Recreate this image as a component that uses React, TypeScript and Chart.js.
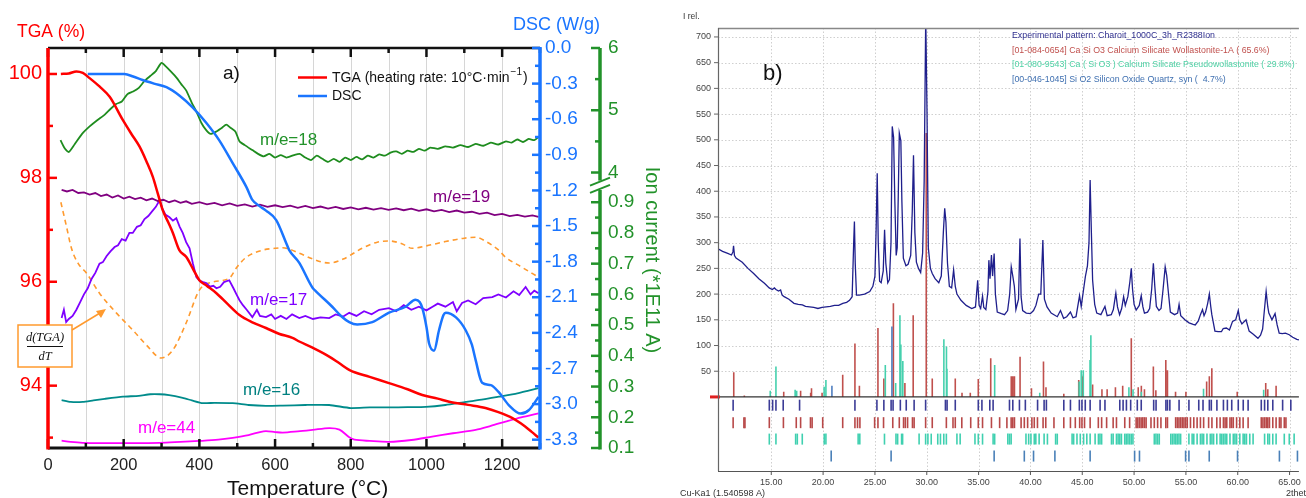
import React, { useEffect, useRef } from "react";
import { Chart, registerables } from "chart.js";
Chart.register(...registerables);

const FONT = "'Liberation Sans', Arial, Helvetica, sans-serif";
const SERIF = "'Liberation Serif', 'Times New Roman', serif";

// ================= Panel a) TGA / DSC / MS =================
const tgaCurve: [number, number][] = [
  [34, 100.0], [55, 100.01], [75, 100.05], [92, 100.02], [110, 99.92], [136, 99.76], [163, 99.56],
  [198, 99.11], [220, 98.85], [242, 98.6], [260, 98.32], [277, 98.02], [290, 97.7], [303, 97.38],
  [318, 97.14], [330, 96.94], [347, 96.61], [365, 96.48], [383, 96.25], [400, 96.03], [420, 95.92],
  [445, 95.78], [475, 95.57], [506, 95.36], [540, 95.22], [576, 95.11], [610, 95.0], [646, 94.92],
  [664, 94.85], [699, 94.73], [743, 94.56], [770, 94.43], [797, 94.3], [850, 94.17], [901, 94.05],
  [950, 93.93], [989, 93.82], [1030, 93.75], [1060, 93.69], [1110, 93.63], [1156, 93.57],
  [1190, 93.49], [1226, 93.38], [1250, 93.27], [1278, 93.11], [1296, 93.0],
];
const dscCurve: [number, number][] = [
  [105, -0.22], [150, -0.22], [202, -0.22], [225, -0.24], [250, -0.27], [280, -0.3], [313, -0.33],
  [347, -0.4], [382, -0.5], [418, -0.63], [453, -0.78], [488, -0.97], [524, -1.17], [540, -1.28],
  [558, -1.33], [576, -1.37], [603, -1.45], [629, -1.64], [637, -1.7], [664, -1.81], [699, -2.02],
  [708, -2.05], [751, -2.18], [775, -2.26], [796, -2.31], [817, -2.33], [857, -2.31], [901, -2.23],
  [945, -2.18], [971, -2.12], [982, -2.14], [989, -2.19], [1000, -2.35], [1007, -2.49], [1020, -2.55],
  [1033, -2.38], [1045, -2.25], [1051, -2.23], [1078, -2.27], [1104, -2.38], [1120, -2.5],
  [1130, -2.63], [1147, -2.82], [1170, -2.84], [1191, -2.9], [1218, -3.01], [1249, -3.08],
  [1271, -3.05], [1296, -2.94],
];
const me18: [number, number][] = [
  [33, 4.52], [45, 4.38], [55, 4.33], [70, 4.45], [90, 4.62], [110, 4.74], [130, 4.84], [150, 4.93],
  [165, 5.02], [180, 5.1], [195, 5.14], [210, 5.26], [225, 5.3], [240, 5.36], [255, 5.47], [270, 5.55],
  [285, 5.63], [300, 5.76], [312, 5.7], [325, 5.62], [340, 5.52], [352, 5.42], [365, 5.32], [380, 5.12],
  [392, 4.98], [405, 4.8], [418, 4.68], [430, 4.62], [445, 4.66], [460, 4.72], [471, 4.77], [482, 4.72],
  [495, 4.66], [506, 4.5], [520, 4.44], [540, 4.36], [555, 4.3], [570, 4.26], [585, 4.3], [600, 4.24],
  [615, 4.28], [630, 4.24], [650, 4.28], [665, 4.3], [680, 4.24], [695, 4.2], [710, 4.27], [725, 4.22],
  [740, 4.17], [755, 4.22], [770, 4.17], [785, 4.24], [800, 4.2], [815, 4.25], [830, 4.21], [845, 4.27],
  [860, 4.24], [875, 4.29], [890, 4.27], [905, 4.32], [920, 4.34], [935, 4.3], [950, 4.35], [965, 4.33],
  [980, 4.38], [995, 4.35], [1010, 4.4], [1030, 4.38], [1050, 4.42], [1070, 4.4], [1090, 4.44],
  [1110, 4.41], [1130, 4.46], [1150, 4.43], [1170, 4.48], [1190, 4.45], [1210, 4.5], [1225, 4.48],
  [1240, 4.53], [1255, 4.49], [1270, 4.54], [1285, 4.52], [1296, 4.57],
];
const me19: [number, number][] = [
  [36, 0.94], [50, 0.935], [65, 0.94], [80, 0.93], [95, 0.932], [110, 0.925], [125, 0.93], [140, 0.92],
  [155, 0.925], [170, 0.915], [185, 0.922], [200, 0.912], [215, 0.918], [230, 0.91], [245, 0.915],
  [260, 0.906], [275, 0.912], [290, 0.904], [305, 0.908], [320, 0.9], [335, 0.906], [350, 0.898],
  [365, 0.903], [380, 0.895], [400, 0.9], [420, 0.893], [440, 0.898], [460, 0.89], [480, 0.896],
  [500, 0.888], [520, 0.893], [540, 0.886], [560, 0.892], [580, 0.885], [600, 0.89], [620, 0.884],
  [640, 0.889], [660, 0.882], [680, 0.888], [700, 0.881], [720, 0.886], [740, 0.879], [760, 0.885],
  [780, 0.878], [800, 0.883], [820, 0.877], [840, 0.882], [860, 0.876], [880, 0.881], [900, 0.875],
  [920, 0.88], [940, 0.874], [960, 0.879], [980, 0.872], [1000, 0.877], [1020, 0.87], [1040, 0.875],
  [1060, 0.868], [1080, 0.873], [1100, 0.866], [1120, 0.869], [1140, 0.862], [1160, 0.866],
  [1180, 0.858], [1200, 0.862], [1220, 0.855], [1240, 0.859], [1260, 0.853], [1280, 0.857], [1296, 0.852],
];
const me17: [number, number][] = [
  [36, 0.523], [42, 0.55], [48, 0.51], [55, 0.52], [65, 0.53], [75, 0.55], [85, 0.575], [95, 0.6],
  [105, 0.62], [115, 0.65], [125, 0.67], [136, 0.7], [145, 0.705], [155, 0.725], [165, 0.74],
  [176, 0.754], [185, 0.76], [195, 0.78], [205, 0.775], [215, 0.8], [224, 0.8], [235, 0.82],
  [245, 0.825], [255, 0.845], [265, 0.855], [275, 0.87], [285, 0.885], [295, 0.907], [302, 0.88],
  [310, 0.86], [321, 0.851], [330, 0.84], [339, 0.848], [348, 0.82], [356, 0.8], [365, 0.77],
  [374, 0.75], [383, 0.7], [392, 0.656], [400, 0.645], [410, 0.64], [418, 0.637], [428, 0.625],
  [437, 0.628], [445, 0.62], [455, 0.625], [465, 0.64], [479, 0.646], [490, 0.62], [498, 0.6],
  [506, 0.581], [515, 0.565], [525, 0.55], [540, 0.526], [552, 0.55], [560, 0.53], [576, 0.526],
  [590, 0.535], [600, 0.52], [615, 0.53], [630, 0.52], [645, 0.535], [664, 0.523], [680, 0.53],
  [700, 0.52], [720, 0.525], [743, 0.523], [760, 0.535], [780, 0.528], [796, 0.54], [815, 0.53],
  [835, 0.545], [855, 0.535], [875, 0.55], [901, 0.555], [920, 0.545], [940, 0.565], [960, 0.55],
  [980, 0.56], [1000, 0.548], [1015, 0.559], [1030, 0.57], [1050, 0.56], [1070, 0.575], [1080, 0.545],
  [1094, 0.572], [1110, 0.58], [1130, 0.568], [1150, 0.588], [1174, 0.591], [1190, 0.6], [1210, 0.59],
  [1230, 0.61], [1245, 0.598], [1262, 0.624], [1275, 0.6], [1285, 0.612], [1296, 0.604],
];
const me16: [number, number][] = [
  [36, 0.256], [60, 0.25], [92, 0.25], [120, 0.255], [150, 0.26], [198, 0.267], [240, 0.27], [270, 0.275],
  [295, 0.275], [320, 0.272], [356, 0.263], [380, 0.255], [409, 0.246], [440, 0.247], [488, 0.246],
  [530, 0.24], [576, 0.237], [620, 0.238], [680, 0.24], [743, 0.24], [800, 0.23], [850, 0.232],
  [900, 0.232], [950, 0.233], [998, 0.234], [1050, 0.24], [1104, 0.25], [1150, 0.258], [1191, 0.267],
  [1240, 0.278], [1270, 0.287], [1296, 0.295],
];
const me44: [number, number][] = [
  [36, 0.124], [60, 0.12], [92, 0.117], [150, 0.116], [200, 0.116], [295, 0.117], [350, 0.12], [400, 0.123],
  [450, 0.127], [488, 0.133], [530, 0.142], [560, 0.152], [576, 0.155], [600, 0.152], [620, 0.15],
  [660, 0.154], [699, 0.159], [743, 0.165], [770, 0.16], [796, 0.135], [810, 0.127], [850, 0.123],
  [901, 0.12], [960, 0.126], [1015, 0.137], [1070, 0.148], [1130, 0.159], [1170, 0.172], [1209, 0.186],
  [1250, 0.2], [1296, 0.213],
];
const dTgaCurve: [number, number][] = [
  [34, 0.9], [49, 0.82], [62, 0.75], [80, 0.7], [102, 0.669], [136, 0.604], [181, 0.539], [224, 0.484],
  [260, 0.435], [299, 0.393], [330, 0.419], [365, 0.507], [400, 0.614], [435, 0.64], [479, 0.653],
  [500, 0.69], [524, 0.721], [567, 0.744], [600, 0.75], [620, 0.752], [664, 0.734], [700, 0.715],
  [743, 0.702], [780, 0.715], [830, 0.75], [870, 0.77], [901, 0.774], [935, 0.765], [962, 0.75],
  [1000, 0.758], [1050, 0.772], [1100, 0.783], [1130, 0.786], [1160, 0.77], [1191, 0.744],
  [1209, 0.721], [1250, 0.69], [1296, 0.656],
];
const ionHighTicks = [4, 5, 6];
const ionLowTicks = [0.1, 0.2, 0.3, 0.4, 0.5, 0.6, 0.7, 0.8, 0.9];

// ================= Panel b) XRD =================
const xrdPattern: [number, number][] = [
  [9.86, 288], [10.3, 283], [10.8, 279], [11.16, 276], [11.3, 282], [11.36, 294], [11.45, 275], [11.6, 270],
  [12.2, 262], [12.75, 250], [13.3, 240], [13.8, 230], [14.34, 221], [14.8, 212], [15.1, 209], [15.3, 212],
  [15.45, 209], [15.7, 206], [15.9, 208], [16.05, 198], [16.24, 195], [16.7, 190], [17.19, 182],
  [17.6, 180], [18.0, 179], [18.3, 176], [18.7, 175], [19.1, 174], [19.5, 172], [19.9, 174], [20.3, 175],
  [20.7, 176], [21.1, 178], [21.5, 178], [21.9, 182], [22.27, 184], [22.55, 188], [22.8, 195], [22.95, 300],
  [23.02, 341], [23.1, 260], [23.22, 198], [23.5, 198], [24.0, 200], [24.5, 205], [24.8, 215], [25.0, 235],
  [25.12, 330], [25.22, 435], [25.32, 300], [25.45, 225], [25.6, 222], [25.8, 245], [25.93, 325],
  [26.05, 260], [26.24, 222], [26.4, 228], [26.55, 300], [26.67, 526], [26.8, 505], [26.92, 380],
  [27.05, 275], [27.15, 290], [27.25, 390], [27.35, 513], [27.5, 498], [27.6, 380], [27.74, 270],
  [27.99, 255], [28.2, 258], [28.45, 275], [28.6, 360], [28.72, 470], [28.85, 320], [29.0, 262],
  [29.2, 250], [29.41, 242], [29.6, 280], [29.75, 420], [29.9, 740], [30.02, 560], [30.15, 290],
  [30.35, 250], [30.53, 240], [30.8, 230], [31.16, 222], [31.4, 235], [31.6, 320], [31.73, 367],
  [31.85, 340], [32.0, 260], [32.18, 215], [32.4, 212], [32.59, 247], [32.75, 215], [32.91, 200],
  [33.3, 188], [33.8, 178], [34.34, 172], [34.7, 175], [34.91, 227], [35.05, 178], [35.2, 172],
  [35.38, 196], [35.5, 174], [35.7, 170], [35.9, 205], [35.99, 266], [36.1, 230], [36.24, 276],
  [36.35, 235], [36.5, 279], [36.62, 200], [36.8, 165], [37.2, 162], [37.5, 160], [37.8, 168], [38.0, 200],
  [38.15, 253], [38.3, 235], [38.45, 215], [38.6, 170], [38.85, 190], [38.99, 308], [39.1, 195],
  [39.25, 168], [39.6, 163], [40.0, 162], [40.3, 168], [40.53, 178], [40.8, 200], [41.0, 200], [41.2, 305],
  [41.35, 190], [41.6, 175], [42.0, 163], [42.59, 156], [42.9, 168], [43.2, 153], [43.5, 156], [43.86, 165],
  [44.1, 154], [44.4, 156], [44.74, 197], [44.9, 176], [45.1, 205], [45.3, 234], [45.5, 255], [45.65, 300],
  [45.76, 422], [45.88, 320], [46.0, 227], [46.2, 180], [46.4, 163], [46.8, 160], [47.19, 176], [47.4, 158],
  [47.8, 160], [48.0, 170], [48.24, 202], [48.4, 175], [48.6, 160], [48.8, 172], [48.99, 195], [49.15, 178],
  [49.4, 195], [49.6, 225], [49.73, 250], [49.85, 210], [50.0, 180], [50.2, 169], [50.5, 178], [50.69, 197],
  [50.85, 175], [51.0, 163], [51.3, 165], [51.5, 172], [51.7, 210], [51.86, 260], [52.0, 215], [52.15, 176],
  [52.4, 168], [52.6, 172], [52.8, 210], [53.0, 253], [53.15, 236], [53.3, 205], [53.5, 165], [53.9, 160],
  [54.2, 163], [54.34, 180], [54.5, 158], [54.9, 150], [55.3, 144], [55.7, 141], [55.9, 140], [56.2, 148],
  [56.4, 160], [56.6, 170], [56.75, 158], [56.9, 165], [57.1, 182], [57.26, 200], [57.4, 175], [57.5, 160],
  [57.8, 128], [58.1, 127], [58.43, 127], [58.6, 133], [58.9, 134], [59.2, 130], [59.5, 147], [59.8, 150],
  [60.05, 168], [60.2, 150], [60.4, 142], [60.8, 150], [61.1, 128], [61.5, 122], [61.95, 114], [62.2, 120],
  [62.4, 132], [62.6, 175], [62.74, 205], [62.9, 175], [63.0, 163], [63.3, 150], [63.6, 162], [63.8, 140],
  [64.0, 124], [64.3, 123], [64.6, 124], [64.97, 121], [65.3, 116], [65.7, 112], [65.9, 111],
];
const wollastoniteSticks: [number, number][] = [
  [11.38, 48], [12.4, 3], [16.2, 10], [17.83, 12], [18.8, 8], [18.88, 17], [19.9, 8], [21.89, 43],
  [23.07, 104], [23.5, 22], [25.29, 134], [25.86, 36], [26.78, 182], [27.89, 27], [28.69, 159],
  [29.95, 513], [30.53, 36], [32.75, 36], [33.4, 8], [34.2, 8], [34.97, 35], [36.17, 75], [38.15, 40],
  [38.3, 40], [38.46, 40], [39.0, 78], [40.1, 17], [41.26, 69], [41.5, 19], [43.22, 6], [44.66, 33],
  [45.05, 40], [46.0, 24], [46.9, 15], [47.4, 15], [48.2, 19], [48.9, 22], [49.73, 114], [50.4, 19],
  [50.7, 22], [51.0, 15], [51.86, 59], [52.1, 13], [53.06, 72], [53.22, 52], [54.0, 10], [55.0, 10],
  [57.0, 30], [57.26, 40], [57.5, 56], [59.95, 10], [62.7, 27], [62.9, 15], [63.7, 22],
];
const pseudoSticks: [number, number][] = [
  [14.9, 12], [15.45, 59], [17.3, 14], [17.45, 12], [20.1, 20], [20.27, 33], [26.0, 62], [27.0, 27],
  [27.41, 159], [27.5, 102], [27.69, 70], [31.65, 112], [31.9, 98], [31.95, 55], [36.55, 62], [40.9, 8],
  [44.7, 30], [44.9, 52], [45.1, 52], [45.75, 72], [45.83, 120], [49.5, 19], [49.9, 15], [50.7, 10],
  [56.7, 16], [62.5, 14],
];
const quartzSticks: [number, number][] = [[20.85, 22], [26.64, 137]];

const peaksExperimental = [
  11.32, 14.81, 15.13, 15.45, 16.15, 17.73, 23.07, 25.19, 25.86, 26.56, 26.75, 27.45, 28.02, 28.78, 29.89,
  31.8, 31.96, 32.75, 34.97, 35.32, 36.08, 36.4, 37.98, 38.3, 38.94, 39.51, 40.69, 41.32, 41.54, 43.22,
  43.86, 44.72, 44.97, 45.29, 45.76, 46.72, 47.19, 48.62, 48.94, 49.26, 49.67, 50.31, 50.69, 51.89, 52.12,
  53.07, 53.22, 53.45, 54.34, 55.29, 56.24, 56.65, 57.26, 57.45, 57.99, 58.62, 59.0, 59.42, 60.05, 60.53,
  61.0, 62.27, 62.59, 62.9, 63.38, 64.33, 65.12,
];
const peaksWollastonite = [
  11.32, 12.36, 12.46, 14.81, 16.17, 17.41, 17.83, 18.78, 18.94, 19.96, 21.89, 23.07, 23.32, 23.55, 24.97,
  25.29, 25.83, 26.72, 27.35, 27.76, 27.93, 28.15, 28.62, 28.78, 29.89, 30.53, 31.89, 32.53, 32.75, 33.38,
  34.24, 34.97, 35.38, 36.24, 37.03, 37.73, 38.14, 38.3, 38.46, 39.1, 39.41, 39.73, 40.14, 40.37, 40.68,
  41.22, 41.48, 42.27, 43.22, 43.86, 44.33, 44.75, 44.97, 45.22, 45.76, 46.55, 46.87, 47.35, 47.98, 48.3,
  49.1, 49.57, 50.2, 50.36, 50.52, 50.68, 50.84, 51.0, 51.16, 51.63, 51.95, 52.27, 52.59, 53.06, 53.22,
  54.01, 54.17, 54.33, 54.49, 54.65, 54.81, 54.97, 55.13, 55.44, 55.76, 56.08, 56.4, 56.71, 57.19, 57.51,
  57.98, 58.3, 58.62, 58.78, 58.94, 59.25, 59.41, 59.57, 59.89, 60.2, 60.52, 61.0, 62.27, 62.43, 62.59,
  62.75, 62.9, 63.06, 63.38, 63.7, 64.02, 64.17, 64.49, 64.65,
];
const peaksPseudo = [
  14.81, 15.45, 17.35, 17.51, 17.99, 20.11, 20.27, 23.38, 23.54, 25.92, 27.03, 27.19, 27.57, 27.67, 29.26,
  29.89, 30.11, 30.43, 31.06, 31.32, 31.64, 31.89, 32.91, 33.22, 34.65, 34.97, 35.38, 36.4, 36.55, 37.82,
  37.98, 38.14, 39.57, 39.83, 40.05, 40.37, 40.52, 40.84, 41.32, 41.64, 42.43, 42.59, 44.02, 44.17, 44.49,
  44.81, 45.13, 45.44, 45.76, 46.24, 46.56, 46.71, 46.87, 47.82, 47.98, 48.3, 48.46, 48.62, 48.78, 49.1,
  49.25, 49.41, 49.57, 49.73, 49.89, 51.95, 52.11, 52.27, 52.43, 53.54, 53.7, 53.86, 54.02, 54.17, 54.33,
  54.49, 55.29, 55.6, 55.76, 56.08, 56.4, 56.56, 56.71, 57.03, 57.35, 57.51, 57.67, 57.98, 58.3, 58.46,
  58.62, 58.78, 58.94, 59.25, 59.57, 59.73, 59.89, 60.2, 60.52, 60.68, 60.84, 61.16, 61.48, 62.59, 62.9,
  63.06, 63.38, 63.7, 64.49, 64.97, 65.44,
];
const peaksQuartz = [20.78, 26.56, 36.5, 39.41, 40.3, 42.36, 45.76, 50.05, 50.52, 54.97, 55.29, 57.25, 59.98, 64.02, 65.76];

const xrdLegendTexts = [
  "Experimental pattern: Charoit_1000C_3h_R2388Ion",
  "[01-084-0654] Ca Si O3 Calcium Silicate Wollastonite-1A ( 65.6%)",
  "[01-080-9543] Ca ( Si O3 ) Calcium Silicate Pseudowollastonite ( 29.8%)",
  "[00-046-1045] Si O2 Silicon Oxide Quartz, syn (  4.7%)",
];
const xrdLegendColors = ["#2e2e8e", "#c0504d", "#4fd1a5", "#3e6fb0"];
const rowLevels = [-16, -50, -82, -115];

// ================= helpers =================
const pts = (a: [number, number][]) => a.map(([x, y]) => ({ x, y }));
const sticks = (a: [number, number][]) =>
  a.flatMap(([x, h]) => [{ x, y: 0 }, { x, y: h }, { x, y: null as any }]);
const row = (a: number[], level: number) => a.map((x) => ({ x, y: level }));

function line(ctx: CanvasRenderingContext2D, x1: number, y1: number, x2: number, y2: number, color: string, w: number) {
  ctx.beginPath();
  ctx.strokeStyle = color;
  ctx.lineWidth = w;
  ctx.moveTo(x1, y1);
  ctx.lineTo(x2, y2);
  ctx.stroke();
}
function text(ctx: CanvasRenderingContext2D, s: string, x: number, y: number, color: string, size: number,
  align: CanvasTextAlign = "left", family = FONT, style = "") {
  ctx.font = `${style} ${size}px ${family}`.trim();
  ctx.fillStyle = color;
  ctx.textAlign = align;
  ctx.textBaseline = "middle";
  ctx.fillText(s, x, y);
}

const RED = "#ff0000";
const BLUE = "#1a75ff";
const GREEN = "#22922a";

const tgaDecor = {
  id: "tgaDecor",
  beforeDatasetsDraw(chart: any) {
    const { ctx, chartArea: ca, scales } = chart;
    ctx.save();
    for (let t = 100; t < 1300; t += 100) {
      const px = Math.round(scales.x.getPixelForValue(t)) + 0.5;
      line(ctx, px, ca.top, px, ca.bottom, "#d6d6d6", 1);
    }
    ctx.restore();
  },
  afterDraw(chart: any) {
    const { ctx, chartArea: ca, scales } = chart;
    const sx = scales.x, sT = scales.yTga, sD = scales.yDsc, sL = scales.yIonLow, sH = scales.yIonHigh;
    ctx.save();
    ctx.lineCap = "butt";
    line(ctx, ca.left, ca.top, ca.right, ca.top, "#111", 2.5);
    line(ctx, ca.left, ca.bottom, ca.right, ca.bottom, "#111", 3);
    for (let t = 0; t <= 1300; t += 100) {
      const px = sx.getPixelForValue(t);
      const len = t % 200 === 0 ? 9 : 5;
      line(ctx, px, ca.bottom, px, ca.bottom - len, "#111", 2.5);
      line(ctx, px, ca.top, px, ca.top + len, "#111", 2.5);
    }
    line(ctx, ca.left, ca.top, ca.left, ca.bottom + 1.5, RED, 3.5);
    for (let v = 93; v <= 100; v++) {
      const py = sT.getPixelForValue(v);
      line(ctx, ca.left, py, ca.left + (v % 2 === 0 ? 9 : 5), py, RED, 2.5);
    }
    line(ctx, ca.right, ca.top - 1, ca.right, ca.bottom + 1.5, BLUE, 3.5);
    for (let k = 0; k <= 22; k++) {
      const py = sD.getPixelForValue(-0.15 * k);
      line(ctx, ca.right, py, ca.right - (k % 2 === 0 ? 8 : 5), py, BLUE, 2.5);
    }
    const gx = 600;
    const yTopEnd = sH.getPixelForValue(3.87);
    const yLowStart = sL.getPixelForValue(0.94);
    line(ctx, gx, sH.getPixelForValue(6), gx, yTopEnd, GREEN, 3.5);
    line(ctx, gx, yLowStart, gx, sL.getPixelForValue(0.1) + 1.5, GREEN, 3.5);
    line(ctx, gx - 10, yTopEnd + 5, gx + 10, yTopEnd - 3, GREEN, 2);
    line(ctx, gx - 10, yLowStart + 3, gx + 10, yLowStart - 5, GREEN, 2);
    for (let v = 4; v <= 6.001; v += 0.5) {
      const py = sH.getPixelForValue(v);
      line(ctx, gx, py, gx - (Math.abs(v - Math.round(v)) < 1e-6 ? 9 : 5), py, GREEN, 2.5);
    }
    for (let k = 2; k <= 18; k++) {
      const py = sL.getPixelForValue(k * 0.05);
      line(ctx, gx, py, gx - (k % 2 === 0 ? 9 : 5), py, GREEN, 2.5);
    }
    ionHighTicks.forEach((v) => text(ctx, String(v), gx + 8, sH.getPixelForValue(v), GREEN, 19));
    ionLowTicks.forEach((v) => text(ctx, v.toFixed(1), gx + 8, sL.getPixelForValue(v), GREEN, 19));
    ctx.save();
    ctx.translate(652, 260);
    ctx.rotate(Math.PI / 2);
    text(ctx, "Ion current (*1E11 A)", 0, 0, GREEN, 20, "center");
    ctx.restore();
    text(ctx, "TGA (%)", 17, 32, RED, 17.5);
    text(ctx, "DSC (W/g)", 513, 25, BLUE, 18);
    text(ctx, "Temperature (°C)", 227, 489, "#111", 21);
    text(ctx, "a)", 223, 74, "#111", 19);
    line(ctx, 298, 77.5, 327, 77.5, RED, 2.5);
    line(ctx, 298, 96, 327, 96, BLUE, 2.5);
    text(ctx, "TGA (heating rate: 10°C·min", 332, 78, "#111", 14);
    const w1 = ctx.measureText("TGA (heating rate: 10°C·min").width;
    text(ctx, "\u22121", 332 + w1 + 1, 72, "#111", 10);
    const w2 = ctx.measureText("\u22121").width;
    text(ctx, ")", 332 + w1 + w2 + 2, 78, "#111", 14);
    text(ctx, "DSC", 332, 96, "#111", 14);
    text(ctx, "m/e=18", 260, 140, GREEN, 17);
    text(ctx, "m/e=19", 433, 197, "#800080", 17);
    text(ctx, "m/e=17", 250, 300, "#7f00ff", 17);
    text(ctx, "m/e=16", 243, 390, "#008080", 17);
    text(ctx, "m/e=44", 138, 428, "#ff00ff", 17);
    ctx.fillStyle = "#fff";
    ctx.fillRect(18, 325, 54, 42);
    ctx.strokeStyle = "#ff9a2e";
    ctx.lineWidth = 1.5;
    ctx.strokeRect(18, 325, 54, 42);
    text(ctx, "d(TGA)", 45, 338, "#111", 12.5, "center", SERIF, "italic");
    line(ctx, 27, 346.5, 63, 346.5, "#111", 1);
    text(ctx, "dT", 45, 357, "#111", 12.5, "center", SERIF, "italic");
    line(ctx, 72, 330, 100, 313, "#ff9a2e", 1.5);
    ctx.beginPath();
    ctx.fillStyle = "#ff9a2e";
    ctx.moveTo(106, 309);
    ctx.lineTo(96, 311);
    ctx.lineTo(101, 318);
    ctx.closePath();
    ctx.fill();
    ctx.restore();
  },
};

const xrdDecor = {
  id: "xrdDecor",
  beforeDatasetsDraw(chart: any) {
    const { ctx, chartArea: ca, scales } = chart;
    ctx.save();
    ctx.setLineDash([1.5, 2]);
    for (let t = 15; t <= 65; t += 5) {
      const px = Math.round(scales.x.getPixelForValue(t)) + 0.5;
      line(ctx, px, ca.top, px, ca.bottom, "#cfcfcf", 1);
    }
    for (let v = 50; v <= 700; v += 50) {
      const py = Math.round(scales.y.getPixelForValue(v)) + 0.5;
      line(ctx, ca.left, py, ca.right, py, "#cfcfcf", 1);
    }
    ctx.restore();
  },
  afterDraw(chart: any) {
    const { ctx, chartArea: ca, scales } = chart;
    ctx.save();
    const y0 = scales.y.getPixelForValue(0);
    line(ctx, ca.left, y0, ca.right, y0, "#333", 1.2);
    line(ctx, ca.left - 8, y0, ca.left + 2, y0, "#e02020", 3);
    line(ctx, ca.left, ca.top + 0.5, ca.right, ca.top + 0.5, "#888", 1.5);
    line(ctx, ca.left + 0.5, ca.top, ca.left + 0.5, ca.bottom, "#666", 1.2);
    line(ctx, ca.left, ca.bottom + 0.5, ca.right, ca.bottom + 0.5, "#555", 1.2);
    for (let v = 50; v <= 700; v += 50) {
      const py = scales.y.getPixelForValue(v);
      line(ctx, ca.left - 4, py, ca.left, py, "#666", 1);
    }
    for (let t = 15; t <= 65; t += 5) {
      const px = scales.x.getPixelForValue(t);
      line(ctx, px, ca.bottom, px, ca.bottom + 4, "#555", 1);
    }
    xrdLegendTexts.forEach((s, i) => text(ctx, s, 336, 36 + i * 14.5, xrdLegendColors[i], 8.8));
    text(ctx, "b)", 87, 74, "#111", 22);
    text(ctx, "I rel.", 7, 17, "#333", 8.5);
    text(ctx, "Cu-Ka1 (1.540598 A)", 4, 494, "#333", 9);
    text(ctx, "2theta", 610, 494, "#333", 9);
    ctx.restore();
  },
};

function fixScale(w?: number, h?: number) {
  return (s: any) => {
    if (w !== undefined) s.width = w;
    if (h !== undefined) s.height = h;
    s.paddingLeft = 0; s.paddingRight = 0; s.paddingTop = 0; s.paddingBottom = 0;
  };
}

function TgaPanel() {
  const ref = useRef<HTMLCanvasElement>(null);
  useEffect(() => {
    const base = { pointRadius: 0, fill: false };
    const chart = new Chart(ref.current!, {
      type: "line",
      data: {
        datasets: [
          { ...base, data: pts(tgaCurve), yAxisID: "yTga", borderColor: RED, borderWidth: 2.5, cubicInterpolationMode: "monotone" },
          { ...base, data: pts(dscCurve), yAxisID: "yDsc", borderColor: BLUE, borderWidth: 2.5, cubicInterpolationMode: "monotone" },
          { ...base, data: pts(me18), yAxisID: "yIonHigh", borderColor: "#1e8c1e", borderWidth: 1.8, tension: 0.2 },
          { ...base, data: pts(me19), yAxisID: "yIonLow", borderColor: "#800080", borderWidth: 1.8, tension: 0 },
          { ...base, data: pts(me17), yAxisID: "yIonLow", borderColor: "#7f00ff", borderWidth: 1.8, tension: 0 },
          { ...base, data: pts(me16), yAxisID: "yIonLow", borderColor: "#008b8b", borderWidth: 1.8, tension: 0.2 },
          { ...base, data: pts(me44), yAxisID: "yIonLow", borderColor: "#ff00ff", borderWidth: 1.8, tension: 0.3 },
          { ...base, data: pts(dTgaCurve), yAxisID: "yIonLow", borderColor: "#ff9a2e", borderWidth: 1.6, borderDash: [5, 4], cubicInterpolationMode: "monotone" },
        ] as any,
      },
      options: {
        responsive: false,
        devicePixelRatio: 1,
        animation: false,
        events: [],
        layout: { padding: { top: 48, left: 0, right: 0, bottom: 0 } },
        plugins: { legend: { display: false }, tooltip: { enabled: false } },
        scales: {
          x: {
            type: "linear", min: 0, max: 1300,
            grid: { display: false, drawTicks: false }, border: { display: false },
            ticks: {
              stepSize: 100, autoSkip: false, maxRotation: 0, padding: 8, color: "#222", includeBounds: false,
              font: { family: FONT, size: 16.5 },
              callback: (v: any) => (v % 200 === 0 ? String(v) : ""),
            },
            afterFit: fixScale(undefined, 50),
          },
          yTga: {
            type: "linear", position: "left", min: 92.8, max: 100.5,
            grid: { display: false, drawTicks: false }, border: { display: false },
            ticks: {
              stepSize: 1, autoSkip: false, padding: 6, color: RED, includeBounds: false, font: { family: FONT, size: 20 },
              callback: (v: any) => (Number.isInteger(v) && v % 2 === 0 ? String(v) : ""),
            },
            afterFit: fixScale(48),
          },
          yDsc: {
            type: "linear", position: "right", min: -3.37, max: 0,
            grid: { display: false, drawTicks: false }, border: { display: false },
            ticks: {
              stepSize: 0.3, autoSkip: false, padding: 5, color: BLUE, includeBounds: false, font: { family: FONT, size: 19 },
              callback: (v: any) => {
                const k = v / 0.3;
                return Math.abs(k - Math.round(k)) < 1e-6 ? Number(v).toFixed(1) : "";
              },
            },
            afterFit: fixScale(135),
          },
          yIonLow: { type: "linear", display: false, min: 0.1, max: 1.402 },
          yIonHigh: { type: "linear", display: false, min: -0.425, max: 6 },
        } as any,
      },
      plugins: [tgaDecor],
    });
    return () => chart.destroy();
  }, []);
  return <canvas ref={ref} width={675} height={498} style={{ position: "absolute", left: 0, top: 0, width: 675, height: 498 }} />;
}

function XrdPanel() {
  const ref = useRef<HTMLCanvasElement>(null);
  useEffect(() => {
    const stickBase = { pointRadius: 0, borderWidth: 1.6, spanGaps: false, tension: 0 };
    const rowBase = { showLine: false, pointStyle: "line", pointRotation: 90, pointRadius: 5.5, pointHoverRadius: 5.5, pointBorderWidth: 1.6 };
    const chart = new Chart(ref.current!, {
      type: "line",
      data: {
        datasets: [
          { data: pts(xrdPattern), borderColor: "#1f1f8c", borderWidth: 1.3, pointRadius: 0, tension: 0 },
          { ...stickBase, data: sticks(quartzSticks), borderColor: "#4f7fc0" },
          { ...stickBase, data: sticks(pseudoSticks), borderColor: "#45d0ad" },
          { ...stickBase, data: sticks(wollastoniteSticks), borderColor: "#c0504d" },
          { ...rowBase, data: row(peaksExperimental, rowLevels[0]), pointBorderColor: "#3b3b96", borderColor: "#3b3b96" },
          { ...rowBase, data: row(peaksWollastonite, rowLevels[1]), pointBorderColor: "#b84848", borderColor: "#b84848" },
          { ...rowBase, data: row(peaksPseudo, rowLevels[2]), pointBorderColor: "#3fd0b0", borderColor: "#3fd0b0" },
          { ...rowBase, data: row(peaksQuartz, rowLevels[3]), pointBorderColor: "#4a80b8", borderColor: "#4a80b8" },
        ] as any,
      },
      options: {
        responsive: false,
        devicePixelRatio: 1,
        animation: false,
        events: [],
        layout: { padding: { top: 28, left: 0, right: 0, bottom: 0 } },
        plugins: { legend: { display: false }, tooltip: { enabled: false } },
        scales: {
          x: {
            type: "linear", min: 9.86, max: 65.9,
            grid: { display: false, drawTicks: false }, border: { display: false },
            ticks: {
              stepSize: 5, autoSkip: false, maxRotation: 0, padding: 6, color: "#444", includeBounds: false,
              font: { family: FONT, size: 9 },
              callback: (v: any) => (v >= 15 && Math.abs(v % 5) < 1e-6 ? Number(v).toFixed(2) : ""),
            },
            afterFit: fixScale(undefined, 27),
          },
          y: {
            type: "linear", min: -144, max: 717.4,
            grid: { display: false, drawTicks: false }, border: { display: false },
            ticks: {
              stepSize: 50, autoSkip: false, padding: 7, color: "#444", includeBounds: false, font: { family: FONT, size: 9 },
              callback: (v: any) => (v > 0 && Math.abs(v % 50) < 1e-6 ? String(v) : ""),
            },
            afterFit: fixScale(42),
          },
        } as any,
      },
      plugins: [xrdDecor],
    });
    return () => chart.destroy();
  }, []);
  return <canvas ref={ref} width={630} height={498} style={{ position: "absolute", left: 676, top: 0, width: 630, height: 498 }} />;
}

export default function App() {
  return (
    <div style={{ position: "fixed", left: 0, top: 0, width: 1306, height: 498, background: "#fff", overflow: "hidden" }}>
      <TgaPanel />
      <XrdPanel />
    </div>
  );
}
